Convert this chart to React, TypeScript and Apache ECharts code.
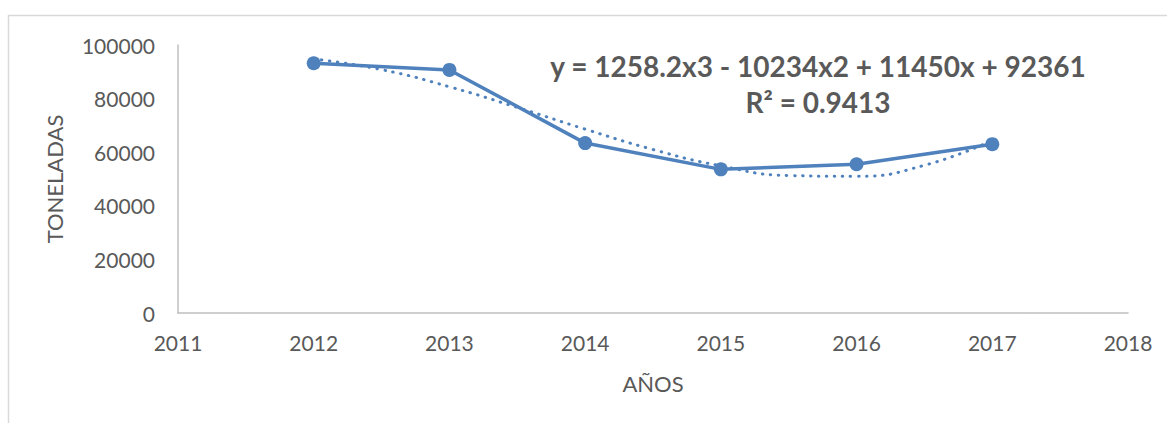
import React, { useEffect, useRef } from "react";
import * as echarts from "echarts";

const years = [2012, 2013, 2014, 2015, 2016, 2017];
const toneladas = [93200, 90700, 63400, 53600, 55500, 63000];
const trendYears = [2012, 2012.5, 2013, 2013.5, 2014, 2014.5, 2015, 2015.5, 2016, 2016.5, 2017];
const trendValues = [94800, 90800, 84400, 76700, 68600, 61000, 54900, 51300, 51000, 55100, 64400];
const equationText = "y = 1258.2x3 - 10234x2 + 11450x + 92361";
const r2Text = "R² = 0.9413";
const xTitle = "AÑOS";
const yTitle = "TONELADAS";

const FONT = "Lato, 'Open Sans', sans-serif";
const GREY = "#595959";
const BLUE = "#4f81bd";

export default function App() {
  const ref = useRef<HTMLDivElement>(null);
  useEffect(() => {
    const chart = echarts.init(ref.current!, null, { renderer: "svg" });
    chart.setOption({
      animation: false,
      grid: { left: 178, right: 39, top: 45, bottom: 110 },
      xAxis: {
        type: "value",
        min: 2011,
        max: 2018,
        interval: 1,
        name: xTitle,
        nameLocation: "middle",
        nameGap: 59,
        nameTextStyle: { color: GREY, fontSize: 22, fontFamily: FONT },
        axisLine: { show: true, lineStyle: { color: "#bfbfbf", width: 1.5 } },
        axisTick: { show: false },
        splitLine: { show: false },
        axisLabel: {
          color: GREY,
          fontSize: 21,
          fontFamily: FONT,
          margin: 19,
          formatter: (v: number) => String(v),
        },
      },
      yAxis: {
        type: "value",
        min: 0,
        max: 100000,
        interval: 20000,
        name: yTitle,
        nameLocation: "middle",
        nameGap: 113,
        nameRotate: 90,
        nameTextStyle: { color: GREY, fontSize: 22, fontFamily: FONT },
        axisLine: { show: true, lineStyle: { color: "#bfbfbf", width: 1.5 } },
        axisTick: { show: false },
        splitLine: { show: false },
        axisLabel: {
          color: GREY,
          fontSize: 21,
          fontFamily: FONT,
          margin: 23,
          formatter: (v: number) => String(v),
        },
      },
      series: [
        {
          type: "line",
          data: trendYears.map((y, i) => [y, trendValues[i]]),
          smooth: true,
          showSymbol: false,
          symbol: "none",
          lineStyle: { color: BLUE, width: 3, type: [0.5, 7.5], cap: "round" },
          z: 2,
        },
        {
          type: "line",
          data: years.map((y, i) => [y, toneladas[i]]),
          symbol: "circle",
          symbolSize: 14,
          itemStyle: { color: BLUE },
          lineStyle: { color: BLUE, width: 3.5 },
          z: 3,
        },
      ],
      graphic: [
        {
          type: "rect",
          shape: { x: 8.5, y: 15.5, width: 1300, height: 600 },
          style: { fill: "none", stroke: "#d9d9d9", lineWidth: 1.5 },
          silent: true,
        },
        {
          type: "text",
          x: 818,
          y: 66,
          style: {
            text: equationText,
            fill: GREY,
            fontSize: 28,
            fontWeight: "bold",
            fontFamily: FONT,
            textAlign: "center",
            textVerticalAlign: "middle",
          },
        },
        {
          type: "text",
          x: 818,
          y: 102,
          style: {
            text: r2Text,
            fill: GREY,
            fontSize: 28,
            fontWeight: "bold",
            fontFamily: FONT,
            textAlign: "center",
            textVerticalAlign: "middle",
          },
        },
      ],
    });
    return () => chart.dispose();
  }, []);
  return (
    <div
      ref={ref}
      style={{ position: "fixed", left: 0, top: 0, width: 1167, height: 423, background: "#fff" }}
    />
  );
}
